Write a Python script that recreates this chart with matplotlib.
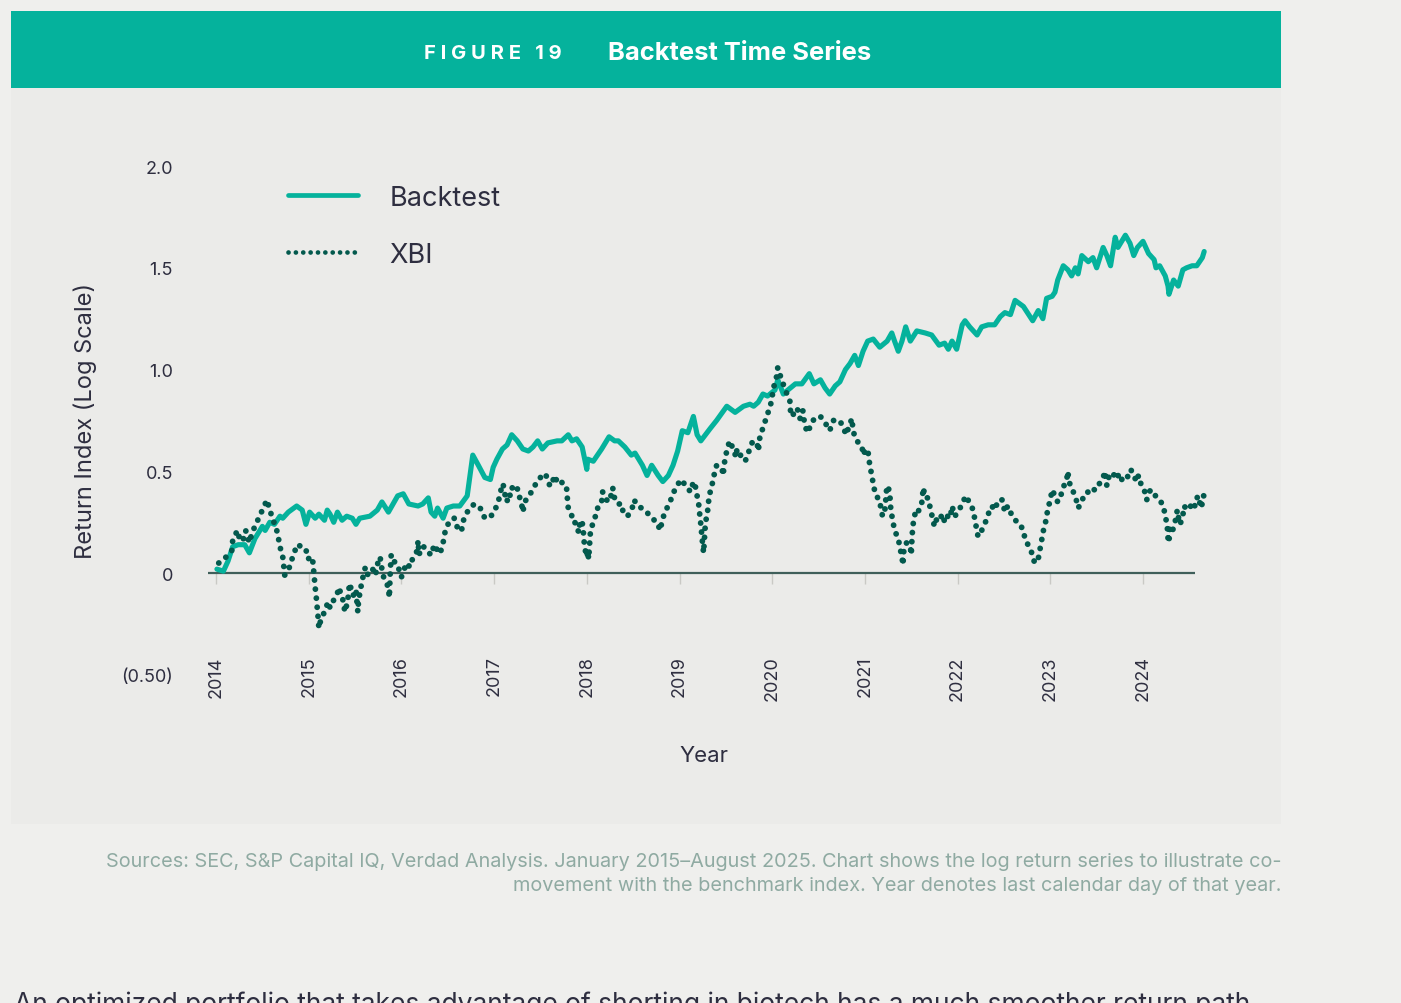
import matplotlib.pyplot as plt
from matplotlib.patches import Rectangle

# ---- data ----
years = [2014, 2015, 2016, 2017, 2018, 2019, 2020, 2021, 2022, 2023, 2024]
year_labels = [str(y) for y in years]
y_ticks = [-0.5, 0, 0.5, 1.0, 1.5, 2.0]
y_tick_labels = ["(0.50)", "0", "0.5", "1.0", "1.5", "2.0"]

backtest_x = [
    2014.01, 2014.08, 2014.13, 2014.18, 2014.24, 2014.31, 2014.36, 2014.42, 2014.50, 2014.53,
    2014.58, 2014.63, 2014.69, 2014.72, 2014.78, 2014.87, 2014.93, 2014.97, 2015.01, 2015.07,
    2015.11, 2015.17, 2015.20, 2015.23, 2015.27, 2015.31, 2015.36, 2015.41, 2015.47, 2015.51,
    2015.55, 2015.66, 2015.74, 2015.79, 2015.86, 2015.91, 2015.96, 2016.02, 2016.08, 2016.18,
    2016.23, 2016.29, 2016.32, 2016.36, 2016.39, 2016.45, 2016.49, 2016.56, 2016.63, 2016.71,
    2016.74, 2016.77, 2016.83, 2016.90, 2016.96, 2016.99, 2017.03, 2017.09, 2017.14, 2017.19,
    2017.25, 2017.31, 2017.37, 2017.42, 2017.47, 2017.52, 2017.58, 2017.68, 2017.73, 2017.80,
    2017.84, 2017.89, 2017.95, 2018.00, 2018.01, 2018.07, 2018.16, 2018.24, 2018.30, 2018.34,
    2018.41, 2018.48, 2018.52, 2018.60, 2018.65, 2018.70, 2018.77, 2018.82, 2018.88, 2018.93,
    2018.98, 2019.03, 2019.09, 2019.15, 2019.19, 2019.23, 2019.33, 2019.40, 2019.51, 2019.60,
    2019.69, 2019.76, 2019.80, 2019.85, 2019.90, 2019.95, 2020.03, 2020.06, 2020.12, 2020.17,
    2020.25, 2020.32, 2020.40, 2020.45, 2020.52, 2020.57, 2020.62, 2020.68, 2020.73, 2020.79,
    2020.84, 2020.89, 2020.93, 2020.98, 2021.03, 2021.09, 2021.16, 2021.24, 2021.29, 2021.32,
    2021.36, 2021.40, 2021.44, 2021.49, 2021.56, 2021.65, 2021.72, 2021.80, 2021.86, 2021.90,
    2021.94, 2021.99, 2022.05, 2022.08, 2022.13, 2022.21, 2022.26, 2022.33, 2022.40, 2022.46,
    2022.51, 2022.57, 2022.62, 2022.71, 2022.81, 2022.87, 2022.92, 2022.96, 2023.02, 2023.05,
    2023.08, 2023.14, 2023.19, 2023.23, 2023.27, 2023.30, 2023.34, 2023.41, 2023.46, 2023.50,
    2023.57, 2023.61, 2023.65, 2023.70, 2023.73, 2023.81, 2023.86, 2023.90, 2023.94, 2024.00,
    2024.06, 2024.12, 2024.14, 2024.18, 2024.24, 2024.27, 2024.28, 2024.33, 2024.38, 2024.43,
    2024.47, 2024.53, 2024.58, 2024.64, 2024.66,
]
backtest_y = [
    0.02, 0.01, 0.06, 0.13, 0.14, 0.14, 0.10, 0.17, 0.23, 0.21,
    0.25, 0.24, 0.28, 0.27, 0.30, 0.33, 0.31, 0.24, 0.30, 0.27,
    0.29, 0.26, 0.31, 0.29, 0.25, 0.30, 0.26, 0.28, 0.27, 0.24,
    0.27, 0.28, 0.31, 0.35, 0.30, 0.34, 0.38, 0.39, 0.34, 0.33,
    0.34, 0.37, 0.30, 0.28, 0.32, 0.27, 0.32, 0.33, 0.33, 0.38,
    0.48, 0.58, 0.53, 0.47, 0.46, 0.52, 0.56, 0.61, 0.63, 0.68,
    0.65, 0.61, 0.60, 0.62, 0.65, 0.61, 0.64, 0.65, 0.65, 0.68,
    0.65, 0.66, 0.62, 0.51, 0.56, 0.55, 0.61, 0.67, 0.65, 0.65,
    0.62, 0.58, 0.59, 0.53, 0.48, 0.53, 0.48, 0.45, 0.48, 0.53,
    0.60, 0.70, 0.69, 0.77, 0.68, 0.65, 0.71, 0.75, 0.82, 0.79,
    0.82, 0.83, 0.82, 0.84, 0.88, 0.87, 0.90, 0.95, 0.88, 0.90,
    0.93, 0.93, 0.98, 0.93, 0.95, 0.91, 0.88, 0.92, 0.94, 1.00,
    1.03, 1.07, 1.02, 1.09, 1.14, 1.15, 1.11, 1.14, 1.18, 1.14,
    1.09, 1.14, 1.21, 1.14, 1.19, 1.18, 1.17, 1.12, 1.13, 1.10,
    1.14, 1.10, 1.22, 1.24, 1.21, 1.17, 1.21, 1.22, 1.22, 1.26,
    1.28, 1.27, 1.34, 1.31, 1.24, 1.29, 1.25, 1.35, 1.36, 1.38,
    1.44, 1.51, 1.49, 1.46, 1.50, 1.47, 1.56, 1.53, 1.55, 1.50,
    1.60, 1.56, 1.51, 1.65, 1.60, 1.66, 1.62, 1.56, 1.60, 1.63,
    1.57, 1.54, 1.50, 1.51, 1.46, 1.41, 1.37, 1.44, 1.41, 1.49,
    1.50, 1.51, 1.51, 1.55, 1.58,
]

xbi_x = [
    2014.03, 2014.11, 2014.17, 2014.18, 2014.23, 2014.26, 2014.29, 2014.32, 2014.36, 2014.39,
    2014.44, 2014.47, 2014.51, 2014.55, 2014.58, 2014.61, 2014.64, 2014.67, 2014.68, 2014.69,
    2014.72, 2014.73, 2014.74, 2014.78, 2014.81, 2014.84, 2014.87, 2014.93, 2014.97, 2014.98,
    2014.99, 2015.04, 2015.05, 2015.06, 2015.07, 2015.08, 2015.09, 2015.10, 2015.11, 2015.13,
    2015.17, 2015.21, 2015.23, 2015.26, 2015.31, 2015.32, 2015.36, 2015.38, 2015.39, 2015.42,
    2015.44, 2015.48, 2015.51, 2015.52, 2015.53, 2015.54, 2015.56, 2015.57, 2015.60, 2015.61,
    2015.64, 2015.69, 2015.72, 2015.75, 2015.77, 2015.80, 2015.84, 2015.86, 2015.87, 2015.88,
    2015.89, 2015.91, 2015.95, 2015.98, 2016.00, 2016.02, 2016.06, 2016.09, 2016.12, 2016.17,
    2016.18, 2016.19, 2016.22, 2016.24, 2016.29, 2016.33, 2016.35, 2016.38, 2016.39, 2016.42,
    2016.45, 2016.47, 2016.50, 2016.55, 2016.57, 2016.59, 2016.61, 2016.65, 2016.66, 2016.71,
    2016.76, 2016.79, 2016.85, 2016.87, 2016.90, 2016.93, 2016.99, 2017.01, 2017.05, 2017.09,
    2017.10, 2017.12, 2017.14, 2017.15, 2017.18, 2017.20, 2017.23, 2017.25, 2017.26, 2017.28,
    2017.30, 2017.31, 2017.33, 2017.39, 2017.43, 2017.46, 2017.50, 2017.53, 2017.55, 2017.58,
    2017.60, 2017.62, 2017.65, 2017.68, 2017.71, 2017.74, 2017.78, 2017.79, 2017.80, 2017.84,
    2017.85, 2017.87, 2017.90, 2017.91, 2017.93, 2017.95, 2017.96, 2017.97, 2017.98, 2018.00,
    2018.01, 2018.02, 2018.03, 2018.04, 2018.05, 2018.08, 2018.11, 2018.12, 2018.16, 2018.17,
    2018.20, 2018.23, 2018.26, 2018.28, 2018.29, 2018.33, 2018.38, 2018.39, 2018.44, 2018.49,
    2018.51, 2018.55, 2018.63, 2018.70, 2018.76, 2018.79, 2018.81, 2018.84, 2018.89, 2018.93,
    2018.97, 2019.02, 2019.08, 2019.12, 2019.15, 2019.17, 2019.19, 2019.21, 2019.22, 2019.23,
    2019.24, 2019.25, 2019.26, 2019.28, 2019.30, 2019.32, 2019.35, 2019.37, 2019.39, 2019.40,
    2019.46, 2019.47, 2019.49, 2019.51, 2019.54, 2019.58, 2019.61, 2019.62, 2019.67, 2019.71,
    2019.73, 2019.76, 2019.79, 2019.84, 2019.85, 2019.87, 2019.89, 2019.92, 2019.94, 2019.98,
    2020.00, 2020.02, 2020.05, 2020.06, 2020.08, 2020.11, 2020.15, 2020.19, 2020.20, 2020.22,
    2020.25, 2020.28, 2020.30, 2020.33, 2020.35, 2020.38, 2020.41, 2020.44, 2020.49, 2020.52,
    2020.57, 2020.62, 2020.66, 2020.73, 2020.76, 2020.80, 2020.82, 2020.86, 2020.87, 2020.89,
    2020.93, 2020.97, 2020.98, 2021.00, 2021.03, 2021.05, 2021.07, 2021.08, 2021.09, 2021.11,
    2021.13, 2021.14, 2021.16, 2021.19, 2021.22, 2021.23, 2021.25, 2021.27, 2021.28, 2021.30,
    2021.32, 2021.36, 2021.38, 2021.40, 2021.41, 2021.42, 2021.45, 2021.49, 2021.50, 2021.51,
    2021.52, 2021.54, 2021.56, 2021.57, 2021.61, 2021.63, 2021.65, 2021.68, 2021.70, 2021.72,
    2021.75, 2021.77, 2021.79, 2021.81, 2021.84, 2021.86, 2021.89, 2021.92, 2021.94, 2021.97,
    2022.02, 2022.05, 2022.10, 2022.12, 2022.17, 2022.19, 2022.21, 2022.22, 2022.26, 2022.30,
    2022.33, 2022.37, 2022.40, 2022.44, 2022.48, 2022.51, 2022.54, 2022.59, 2022.62, 2022.66,
    2022.71, 2022.73, 2022.76, 2022.78, 2022.81, 2022.83, 2022.87, 2022.89, 2022.91, 2022.93,
    2022.96, 2022.97, 2023.00, 2023.02, 2023.05, 2023.08, 2023.13, 2023.14, 2023.18, 2023.19,
    2023.20, 2023.24, 2023.28, 2023.30, 2023.34, 2023.36, 2023.40, 2023.43, 2023.46, 2023.50,
    2023.54, 2023.57, 2023.59, 2023.61, 2023.64, 2023.68, 2023.72, 2023.75, 2023.81, 2023.83,
    2023.87, 2023.89, 2023.94, 2023.95, 2023.99, 2024.02, 2024.04, 2024.08, 2024.12, 2024.15,
    2024.18, 2024.22, 2024.24, 2024.26, 2024.27, 2024.28, 2024.29, 2024.32, 2024.35, 2024.37,
    2024.38, 2024.40, 2024.43, 2024.44, 2024.49, 2024.54, 2024.56, 2024.59, 2024.63, 2024.65,
    2024.68,
]
xbi_y = [
    0.05, 0.08, 0.11, 0.16, 0.21, 0.16, 0.16, 0.21, 0.15, 0.20,
    0.25, 0.28, 0.32, 0.36, 0.31, 0.27, 0.23, 0.19, 0.15, 0.13,
    0.08, 0.04, -0.01, 0.01, 0.06, 0.09, 0.14, 0.13, 0.12, 0.09,
    0.07, 0.08, 0.03, -0.02, -0.07, -0.11, -0.16, -0.21, -0.27, -0.23,
    -0.19, -0.14, -0.17, -0.14, -0.10, -0.07, -0.11, -0.16, -0.19, -0.14,
    -0.05, -0.11, -0.08, -0.14, -0.19, -0.12, -0.09, -0.04, 0.00, 0.03,
    -0.01, 0.02, -0.01, 0.06, 0.08, -0.01, -0.05, -0.07, -0.12, 0.01,
    0.09, 0.06, 0.05, 0.01, -0.02, 0.01, 0.05, 0.03, 0.07, 0.11,
    0.16, 0.09, 0.13, 0.13, 0.10, 0.09, 0.14, 0.12, 0.10, 0.10,
    0.15, 0.20, 0.24, 0.25, 0.27, 0.25, 0.21, 0.21, 0.25, 0.30,
    0.33, 0.34, 0.32, 0.30, 0.27, 0.27, 0.29, 0.31, 0.36, 0.44,
    0.43, 0.38, 0.35, 0.39, 0.38, 0.43, 0.43, 0.42, 0.38, 0.37,
    0.33, 0.30, 0.35, 0.39, 0.42, 0.45, 0.47, 0.48, 0.49, 0.46,
    0.43, 0.43, 0.48, 0.45, 0.46, 0.44, 0.43, 0.37, 0.32, 0.28,
    0.25, 0.25, 0.23, 0.20, 0.26, 0.25, 0.22, 0.16, 0.12, 0.08,
    0.11, 0.07, 0.14, 0.21, 0.22, 0.27, 0.29, 0.33, 0.35, 0.40,
    0.37, 0.35, 0.38, 0.42, 0.38, 0.34, 0.34, 0.30, 0.28, 0.32,
    0.36, 0.33, 0.31, 0.27, 0.25, 0.21, 0.25, 0.30, 0.34, 0.39,
    0.43, 0.46, 0.42, 0.40, 0.45, 0.43, 0.38, 0.33, 0.28, 0.24,
    0.19, 0.14, 0.10, 0.25, 0.29, 0.38, 0.43, 0.48, 0.50, 0.53,
    0.51, 0.48, 0.56, 0.60, 0.65, 0.61, 0.57, 0.61, 0.57, 0.55,
    0.58, 0.61, 0.65, 0.63, 0.60, 0.68, 0.70, 0.74, 0.77, 0.82,
    0.87, 0.92, 0.97, 1.01, 0.98, 0.94, 0.89, 0.85, 0.78, 0.77,
    0.81, 0.80, 0.76, 0.80, 0.73, 0.69, 0.72, 0.75, 0.77, 0.77,
    0.74, 0.70, 0.75, 0.75, 0.72, 0.68, 0.71, 0.76, 0.71, 0.67,
    0.64, 0.62, 0.58, 0.60, 0.61, 0.54, 0.49, 0.47, 0.43, 0.40,
    0.39, 0.36, 0.35, 0.28, 0.32, 0.40, 0.43, 0.38, 0.31, 0.26,
    0.21, 0.17, 0.12, 0.08, 0.04, 0.11, 0.15, 0.13, 0.09, 0.19,
    0.24, 0.29, 0.28, 0.30, 0.33, 0.42, 0.37, 0.37, 0.33, 0.29,
    0.23, 0.26, 0.28, 0.27, 0.29, 0.25, 0.28, 0.27, 0.33, 0.28,
    0.31, 0.35, 0.38, 0.35, 0.31, 0.25, 0.21, 0.18, 0.21, 0.25,
    0.29, 0.33, 0.31, 0.36, 0.36, 0.30, 0.33, 0.28, 0.26, 0.25,
    0.21, 0.16, 0.14, 0.12, 0.09, 0.05, 0.07, 0.12, 0.17, 0.22,
    0.27, 0.31, 0.36, 0.41, 0.38, 0.35, 0.40, 0.42, 0.47, 0.50,
    0.45, 0.41, 0.36, 0.32, 0.35, 0.38, 0.40, 0.39, 0.41, 0.41,
    0.45, 0.47, 0.50, 0.43, 0.49, 0.48, 0.50, 0.45, 0.48, 0.47,
    0.51, 0.48, 0.45, 0.48, 0.42, 0.40, 0.36, 0.41, 0.39, 0.37,
    0.36, 0.33, 0.28, 0.24, 0.17, 0.15, 0.23, 0.21, 0.26, 0.31,
    0.28, 0.24, 0.28, 0.33, 0.31, 0.35, 0.33, 0.38, 0.32, 0.38,
    0.38,
]

# ---- colours ----
TEAL = "#05b29c"
DARK = "#03594d"
PAGE = "#efefed"
PANEL = "#ebebe9"
TEXT = "#2e2e40"
NOTE = "#8faaa2"

W, H = 1401, 1004  # pixels


def fx(px):
    return px / W


def fy(py):
    return 1 - py / H


plt.rcParams['font.family'] = ['Inter', 'DejaVu Sans']

fig = plt.figure(figsize=(W / 100, H / 100), dpi=100, facecolor=PAGE)

# panel and header band (behind the axes)
fig.patches.append(Rectangle((fx(11), fy(825)), fx(1281) - fx(11), fy(12) - fy(825),
                             transform=fig.transFigure, facecolor=PANEL, edgecolor="none", zorder=-2))
fig.patches.append(Rectangle((fx(11), fy(89)), fx(1281) - fx(11), fy(12) - fy(89),
                             transform=fig.transFigure, facecolor=TEAL, edgecolor="none", zorder=-1))

fig.text(fx(424), fy(54), "F I G U R E   1 9", color="white", fontsize=14.5,
         fontweight="bold", ha="left", va="center")
fig.text(fx(608), fy(54), "Backtest Time Series", color="white", fontsize=18.4,
         fontweight="bold", ha="left", va="center")

# main axes: x from 2013.85 to 2024.8, y from -0.5 to 2.0
px_per_year = 92.7
x0, x1 = 2013.85, 2024.8
left_px = 216 - (2014 - x0) * px_per_year
right_px = 216 + (x1 - 2014) * px_per_year
ax = fig.add_axes([fx(left_px), fy(676), fx(right_px) - fx(left_px), fy(167) - fy(676)])
ax.set_facecolor("none")
ax.set_xlim(x0, x1)
ax.set_ylim(-0.5, 2.0)

ax.hlines(0, 2013.91, 2024.56, color="#3f5f5a", lw=1.6, zorder=2)

ax.plot(backtest_x, backtest_y, color=TEAL, lw=3.7, solid_joinstyle="round",
        solid_capstyle="round", label="Backtest", zorder=3)
ax.plot(xbi_x, xbi_y, color=DARK, lw=4.2, linestyle=(0, (0.01, 1.55)),
        dash_capstyle="round", label="XBI", zorder=4)

for s in ax.spines.values():
    s.set_visible(False)
ax.spines["bottom"].set_position(("data", 0))

ax.set_xticks(years)
ax.set_xticklabels(year_labels, rotation=90, fontsize=13, color=TEXT)
ax.tick_params(axis="x", direction="out", length=8, width=1, color="#c9c9c5", pad=51)
ax.set_yticks(y_ticks)
ax.set_yticklabels(y_tick_labels, fontsize=13, color=TEXT)
ax.tick_params(axis="y", length=0, pad=21)

fig.text(fx(85), fy(421), "Return Index (Log Scale)", rotation=90, fontsize=17,
         color=TEXT, ha="center", va="center")
fig.text(fx(704), fy(756), "Year", fontsize=16, color=TEXT, ha="center", va="center")

leg = ax.legend(loc="upper left", bbox_to_anchor=(fx(266), fy(164)),
                bbox_transform=fig.transFigure, frameon=False, fontsize=19.5,
                handlelength=2.6, handletextpad=1.15, labelspacing=1.15,
                labelcolor=TEXT, borderpad=0.3)
for h in leg.get_lines():
    h.set_linewidth(3.4)

note = ("Sources: SEC, S&P Capital IQ, Verdad Analysis. January 2015\u2013August 2025. "
        "Chart shows the log return series to illustrate co-\n"
        "movement with the benchmark index. Year denotes last calendar day of that year.")
fig.text(fx(1281), fy(853), note, fontsize=14.3, color=NOTE, ha="right", va="top",
         multialignment="right", linespacing=1.45)

fig.text(fx(14), fy(992), "An optimized portfolio that takes advantage of shorting in biotech "
         "has a much smoother return path", fontsize=19, color=TEXT, ha="left", va="top")

fig.savefig("out.png", dpi=100, facecolor=PAGE)
